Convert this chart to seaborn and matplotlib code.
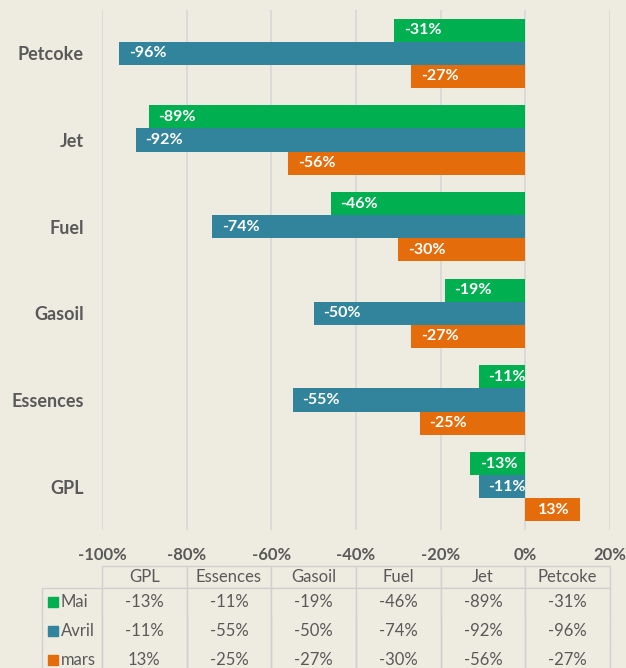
import matplotlib.pyplot as plt
from matplotlib.patches import Rectangle
import seaborn as sns
import pandas as pd

# Data
products = ["Petcoke", "Jet", "Fuel", "Gasoil", "Essences", "GPL"]
series = ["Mai", "Avril", "mars"]
mai = [-31, -89, -46, -19, -11, -13]
avril = [-96, -92, -74, -50, -55, -11]
mars = [-27, -56, -30, -27, -25, 13]
colors = ["#00B050", "#31849B", "#E46C0A"]
xticks = [-100, -80, -60, -40, -20, 0, 20]
table_cols = products[::-1]

bg = "#EEEBE0"
grey = "#595959"
W, H = 626, 668

df = pd.DataFrame({
    "Produit": products * 3,
    "Mois": [s for s in series for _ in products],
    "Variation": mai + avril + mars,
})

sns.set_theme(style="white")
plt.rcParams['font.family'] = ['Lato', 'DejaVu Sans']

fig = plt.figure(figsize=(W / 100, H / 100), dpi=100, facecolor=bg)
# axes area in pixels: x 102..610, y 10..530
ax = fig.add_axes([102 / W, 1 - 530 / H, 508 / W, 520 / H])
ax.set_facecolor(bg)

sns.barplot(data=df, x="Variation", y="Produit", hue="Mois", order=products,
            hue_order=series, palette=colors, orient="h", width=0.8,
            saturation=1, linewidth=0, legend=False, ax=ax)

# Bar labels, inside the bar end
for cont in ax.containers:
    for bar in cont:
        v = bar.get_x() + bar.get_width()
        yc = bar.get_y() + bar.get_height() / 2
        ax.annotate(f"{v:.0f}%", xy=(v, yc), xytext=(7 if v < 0 else -8, 0),
                    textcoords="offset points", ha="left" if v < 0 else "right",
                    va="center", color="white", fontweight="bold", fontsize=11.5)

ax.set_xlim(-100, 20)
ax.set_xticks(xticks)
ax.set_xticklabels([f"{t}%" for t in xticks], fontweight="bold", fontsize=12, color=grey)
ax.set_yticks(range(len(products)))
ax.set_yticklabels(products, fontweight="bold", fontsize=13, color=grey)
ax.tick_params(axis="x", length=0, pad=12)
ax.tick_params(axis="y", length=0, pad=13)
ax.grid(axis="x", color="#D9D9D9", lw=1.3)
ax.grid(axis="y", visible=False)
ax.set_axisbelow(True)
ax.set_xlabel("")
ax.set_ylabel("")
for s in ax.spines.values():
    s.set_visible(False)

# Data table below the chart (layout in pixels)
lab_w, col_w = 60, 508 / 6
gap, head_h, row_h = 36, 22, 28.7
cell_text = [[""] + [f"{v}%" for v in vals[::-1]] for vals in (mai, avril, mars)]
tab = ax.table(cellText=cell_text, colLabels=[""] + table_cols, cellLoc="center",
               bbox=[-lab_w / 508, -(gap + head_h + 3 * row_h) / 520,
                     (lab_w + 508) / 508, (head_h + 3 * row_h) / 520])
tab.auto_set_font_size(False)
for (r, c), cell in tab.get_celld().items():
    cell.set_facecolor(bg)
    cell.set_edgecolor("#D0D0D0")
    cell.set_linewidth(1.0)
    cell.set_width(lab_w if c == 0 else col_w)
    cell.set_height(head_h if r == 0 else row_h)
    cell.get_text().set_color(grey)
    cell.get_text().set_fontsize(12)
    if r == 0:
        cell.visible_edges = "" if c == 0 else "closed"
    elif r == 1:
        cell.visible_edges = "TLR"
    else:
        cell.visible_edges = "LR"

# Legend keys in the row-label column
for i, (name, col) in enumerate(zip(series, colors)):
    yc = -(gap + head_h + row_h * (i + 0.5))
    ax.add_patch(Rectangle(((48 - 102) / 508, (yc - 5) / 520), 10 / 508, 10 / 520,
                           transform=ax.transAxes, color=col, clip_on=False))
    ax.text((61 - 102) / 508, yc / 520, name, transform=ax.transAxes,
            ha="left", va="center", fontsize=12, color=grey)

plt.savefig("out.png", dpi=100, facecolor=bg)
